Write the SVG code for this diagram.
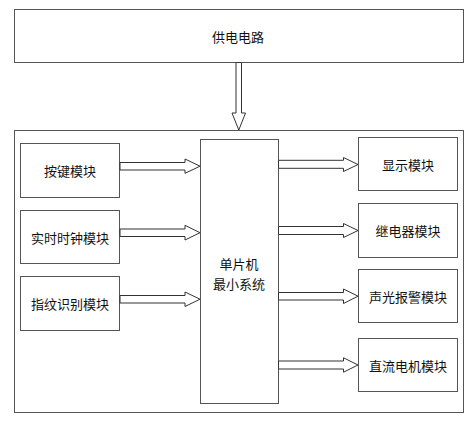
<svg xmlns="http://www.w3.org/2000/svg" width="475" height="425" viewBox="0 0 475 425">
<style>
.box{fill:#fff;stroke:#555;stroke-width:1}
.arr{fill:#fff;stroke:#333;stroke-width:1}
text{font-family:"Noto Sans CJK SC","Noto Sans",sans-serif;font-size:13px;fill:#111;text-anchor:middle;dominant-baseline:central}
</style>
<rect width="475" height="425" fill="#fff"/>
<g id="power"><rect class="box" x="14.5" y="9.5" width="449" height="53"/><text x="238" y="36">供电电路</text></g>
<g id="system"><rect class="box" x="14.5" y="130.5" width="449" height="282"/></g>
<g id="mcu"><rect class="box" x="200.5" y="139.5" width="78" height="264"/><text x="239" y="263">单片机</text><text x="239" y="283">最小系统</text></g>
<g id="key"><rect class="box" x="20.5" y="143.5" width="99" height="54"/><text x="70" y="170">按键模块</text></g>
<g id="rtc"><rect class="box" x="20.5" y="210.5" width="99" height="53"/><text x="70" y="237">实时时钟模块</text></g>
<g id="finger"><rect class="box" x="20.5" y="276.5" width="99" height="54"/><text x="70" y="303">指纹识别模块</text></g>
<g id="display"><rect class="box" x="358.5" y="137.5" width="99" height="53"/><text x="408" y="164">显示模块</text></g>
<g id="relay"><rect class="box" x="358.5" y="203.5" width="99" height="54"/><text x="408" y="230">继电器模块</text></g>
<g id="alarm"><rect class="box" x="358.5" y="269.5" width="99" height="53"/><text x="408" y="296">声光报警模块</text></g>
<g id="motor"><rect class="box" x="358.5" y="338.5" width="99" height="53"/><text x="408" y="365">直流电机模块</text></g>
<g id="connectors">
<polygon class="arr" points="236,62.5 241.5,62.5 241.5,113 245.5,113 238.8,130 232,113 236,113"/>
<polygon class="arr" points="120,162.5 185,162.5 185,159 200,166.2 185,173.3 185,170 120,170"/>
<polygon class="arr" points="120,229 185,229 185,225.3 200,232.7 185,240 185,236.5 120,236.5"/>
<polygon class="arr" points="120,295.5 185,295.5 185,292 200,299.2 185,306.5 185,303 120,303"/>
<polygon class="arr" points="278.5,160.3 343.5,160.3 343.5,157.5 358,164.5 343.5,171.5 343.5,168.3 278.5,168.3"/>
<polygon class="arr" points="278.5,226.5 343.5,226.5 343.5,223.5 358,230.5 343.5,237.5 343.5,234.5 278.5,234.5"/>
<polygon class="arr" points="278.5,292.5 343.5,292.5 343.5,289 358,296.2 343.5,303.5 343.5,300 278.5,300"/>
<polygon class="arr" points="278.5,361 343.5,361 343.5,357.8 358,365 343.5,372.2 343.5,369 278.5,369"/>
</g>
</svg>
